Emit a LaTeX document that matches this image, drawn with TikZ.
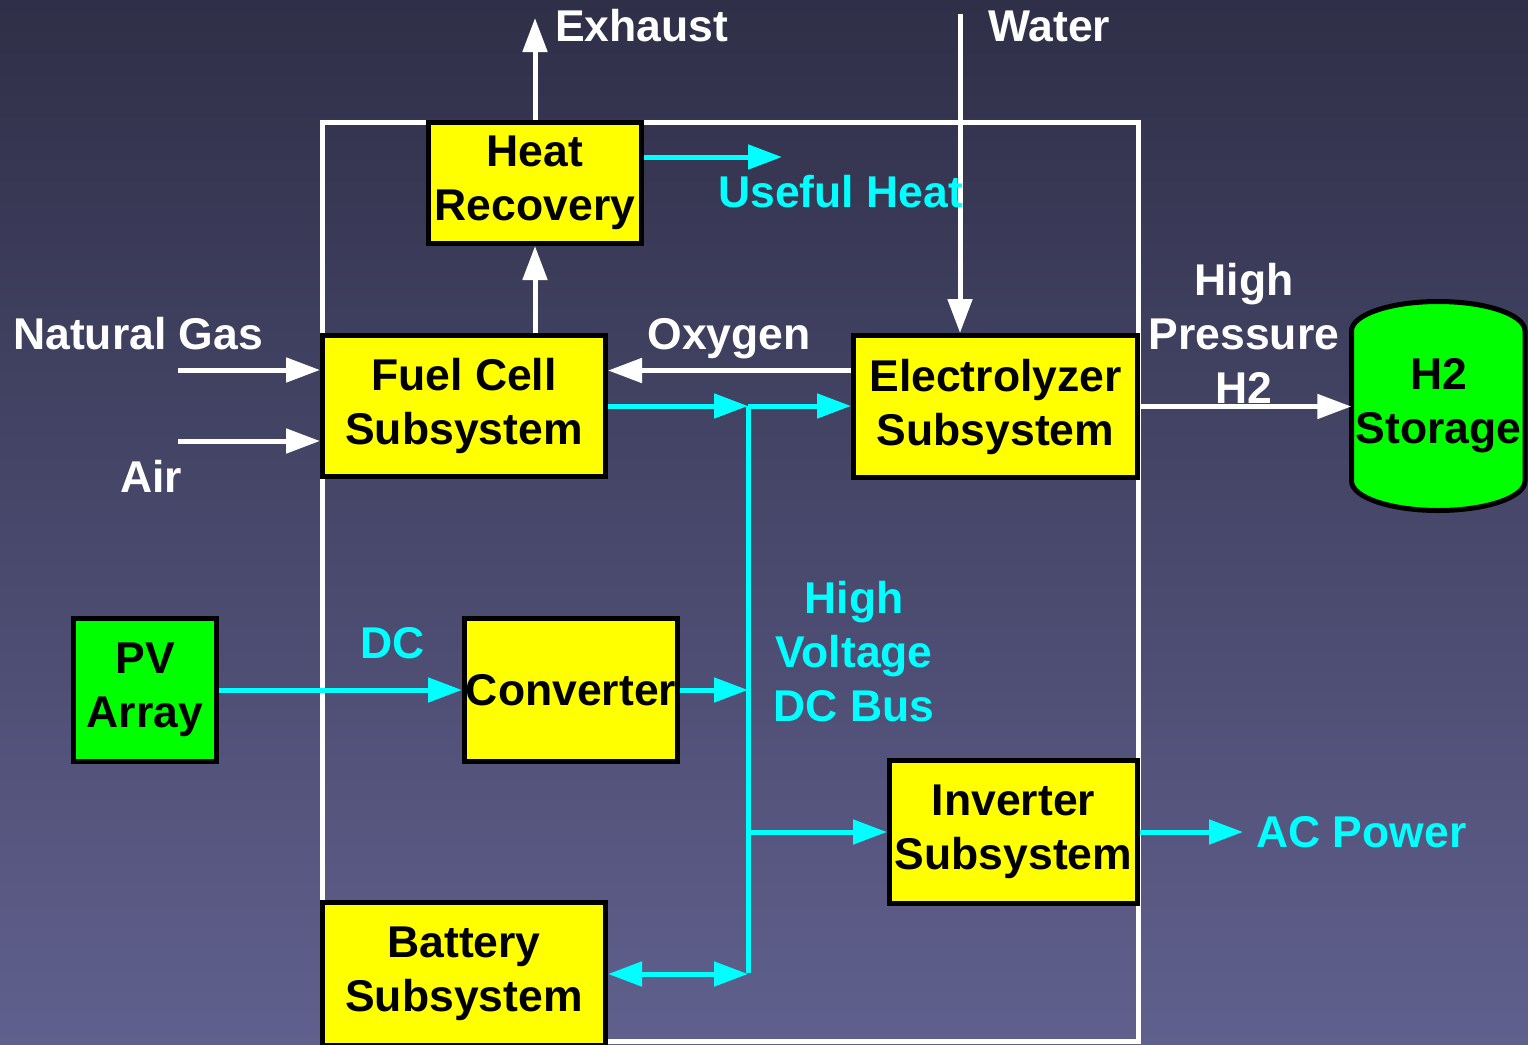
\documentclass[tikz,border=0pt]{standalone}
\usepackage{fontspec}
\setmainfont{Liberation Sans}
\usepackage{tikz}
\usetikzlibrary{arrows.meta, positioning, calc}
\definecolor{SysBgTop}{RGB}{47, 47, 72}
\definecolor{SysBgBottom}{RGB}{96, 96, 142}
\definecolor{SysYellow}{RGB}{255, 255, 0}
\definecolor{SysGreen}{RGB}{0, 255, 0}
\definecolor{SysCyan}{RGB}{0, 255, 255}

\tikzset{
  unitbox/.style={draw=black, line width=5pt, fill=SysYellow, align=center, inner sep=0pt,
    font=\fontsize{44.5}{54}\selectfont\bfseries},
  pvbox/.style={unitbox, fill=SysGreen},
  flowtext/.style={text=white, align=center, inner sep=0pt, font=\fontsize{44.5}{54}\selectfont\bfseries},
  powertext/.style={flowtext, text=SysCyan},
  gasflow/.style={white, line width=5pt, -{Triangle[length=34pt, width=24pt]}},
  powerflow/.style={gasflow, SysCyan},
  busflow/.style={SysCyan, line width=5pt, {Triangle[length=34pt, width=24pt]}-{Triangle[length=34pt, width=24pt]}},
}

\begin{document}
\begin{tikzpicture}[x=1pt,y=-1pt]
  \path[use as bounding box] (0,0) rectangle (1528,1044);
  \shade[top color=SysBgTop, bottom color=SysBgBottom] (0,0) rectangle (1528,1044);

  % system frame
  \draw[white, line width=5pt] (322,122.5) rectangle (1138,1041);

  % H2 tank outline
  \draw[black, line width=5pt, fill=SysGreen] (1351.5,331)
    arc[start angle=180, end angle=360, x radius=86.75, y radius=29.5] -- (1525,481)
    arc[start angle=0, end angle=180, x radius=86.75, y radius=29.5] -- cycle;

  % units
  \node[unitbox, minimum width=213pt, minimum height=121pt] (hr) at (535,183) {Heat\\Recovery};
  \node[unitbox, minimum width=283pt, minimum height=141pt] (fc) at (464,406) {Fuel Cell\\Subsystem};
  \node[unitbox, minimum width=284pt, minimum height=142pt] (el) at (995.5,406.5) {Electrolyzer\\Subsystem};
  \node[flowtext, text=black, minimum width=174pt] (h2) at (1438.5,406) {H2\\Storage};
  \node[pvbox, minimum width=143pt, minimum height=143pt] (pv) at (145,690) {PV\\Array};
  \node[unitbox, minimum width=213pt, minimum height=143pt] (cv) at (571,690) {Converter};
  \node[unitbox, minimum width=248pt, minimum height=143pt] (inv) at (1013.5,832) {Inverter\\Subsystem};
  \node[unitbox, minimum width=283pt, minimum height=143pt] (bat) at (464,974) {Battery\\Subsystem};

  % free ends and bus corners
  \coordinate (exhaust) at (535,18);
  \coordinate (waterin) at (960,14);
  \coordinate (heatout) at (782,157);
  \coordinate (gasin) at (178,370);
  \coordinate (airin) at (178,441);
  \coordinate (acout) at (1243,831);
  \coordinate (bustop) at (748,406);
  \coordinate (busbot) at (748,973);

  % gas and heat
  \draw[gasflow] (hr.north) -- (exhaust);
  \draw[gasflow] (waterin) -- (waterin |- el.north);
  \draw[gasflow] (hr.south |- fc.north) -- (hr.south);
  \draw[powerflow] (hr.east |- heatout) -- (heatout);
  \draw[gasflow] (gasin) -- (gasin -| fc.west);
  \draw[gasflow] (airin) -- (airin -| fc.west);
  \draw[gasflow] ([yshift=36pt]el.west) -- ([yshift=36pt]el.west -| fc.east);
  \draw[gasflow] (el.east) -- (el.east -| h2.west);

  % DC bus
  \draw[SysCyan, line width=5pt] (bustop) -- (busbot);
  \draw[powerflow] (fc.east) -- (bustop);
  \draw[powerflow] (bustop) -- (bustop -| el.west);
  \draw[powerflow] (pv.east) -- (cv.west);
  \draw[powerflow] (cv.east) -- (cv.east -| bustop);
  \draw[powerflow] (inv.west -| bustop) -- (inv.west);
  \draw[busflow] (bat.east) -- (bat.east -| busbot);
  \draw[powerflow] (inv.east) -- (inv.east -| acout);

  % labels
  \node[flowtext, anchor=base west] (exhaustlbl) at (555,41) {Exhaust};
  \node[flowtext, anchor=base west] (waterlbl) at (988,41) {Water};
  \node[powertext, anchor=base west] (heatlbl) at (718,207) {Useful Heat};
  \node[flowtext, anchor=base west] (gaslbl) at (13,349) {Natural Gas};
  \node[flowtext, anchor=base] (airlbl) at (151,492) {Air};
  \node[flowtext, anchor=base] (oxylbl) at (729,349) {Oxygen};
  \node[flowtext] (h2lbl) at (1244,333) {High\\Pressure\\H2};
  \node[powertext] (buslbl) at (854,652) {High\\Voltage\\DC Bus};
  \node[powertext, anchor=base] (dclbl) at (393,658) {DC};
  \node[powertext, anchor=base west] (aclbl) at (1256,847) {AC Power};
\end{tikzpicture}
\end{document}
